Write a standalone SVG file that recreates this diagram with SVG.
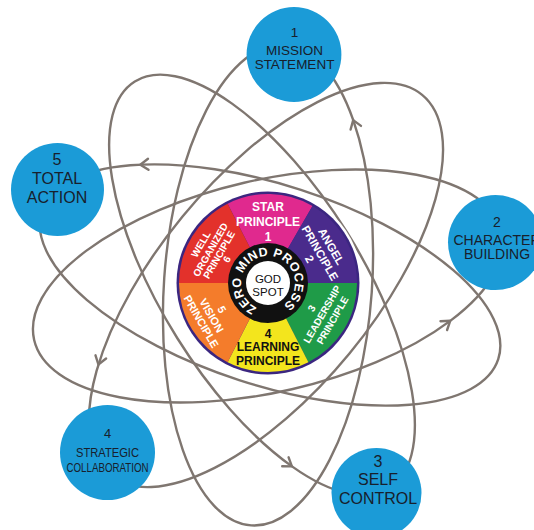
<svg xmlns="http://www.w3.org/2000/svg" width="534" height="530" viewBox="0 0 534 530">
<defs>
<style>
.orbit{fill:none;stroke:#7f7670;stroke-width:2.4}
.arrow{fill:none;stroke:#7f7670;stroke-width:2.4;stroke-linecap:round;stroke-linejoin:round}
.node circle{fill:#1b9bd7}
.node text{font-family:"Liberation Sans",Arial,sans-serif;fill:#18202c;text-anchor:middle}
.wt{font-family:"Liberation Sans",Arial,sans-serif;font-weight:bold;fill:#ffffff;text-anchor:middle}
.bt{font-family:"Liberation Sans",Arial,sans-serif;font-weight:bold;fill:#111111;text-anchor:middle}
.gs{font-family:"Liberation Sans",Arial,sans-serif;fill:#111111;text-anchor:middle;font-size:11.5px}
.zmp{font-family:"Liberation Sans",Arial,sans-serif;font-weight:bold;fill:#ffffff;text-anchor:start;font-size:12.5px}
</style>
<path id="zmp" d="M257.89,308.03 A27,27 0 0 1 251.38,261.72 A27,27 0 0 1 294.74,279.24 A27,27 0 0 1 257.89,308.03"/>
</defs>
<rect width="534" height="530" fill="#ffffff"/>

<g id="orbits">
<ellipse class="orbit" cx="268" cy="285" rx="241" ry="104" transform="rotate(94 268 285)"/>
<ellipse class="orbit" cx="266" cy="285" rx="246" ry="108" transform="rotate(129.4 266 285)"/>
<ellipse class="orbit" cx="268" cy="286" rx="240" ry="106" transform="rotate(-13 268 286)"/>
<ellipse class="orbit" cx="270" cy="285" rx="240" ry="100" transform="rotate(18 270 285)"/>
<ellipse class="orbit" cx="262" cy="285" rx="240" ry="100" transform="rotate(58 262 285)"/>
<path class="arrow" d="M361.0,125.9 L353.2,120.1 L350.6,129.5"/>
<path class="arrow" d="M447.1,330 L450.2,320.8 L440.5,321.2"/>
<path class="arrow" d="M282.2,466.3 L291.9,466.4 L288.6,457.3"/>
<path class="arrow" d="M95.5,355.3 L98.4,364.5 L106.1,358.5"/>
<path class="arrow" d="M148,158.8 L140.3,164.7 L148.5,169.8"/>
</g>

<g id="hub">
<circle cx="268" cy="283" r="94" fill="#ffffff"/>
<circle cx="268" cy="283" r="91.5" fill="#3b2680"/>
<path d="M268,283 L227.6,203.7 A89,89 0 0 1 312.5,205.9 Z" fill="#e0298e"/>
<path d="M268,283 L312.5,205.9 A89,89 0 0 1 357,283 Z" fill="#4a2b8c"/>
<path d="M268,283 L357,283 A89,89 0 0 1 308.4,362.3 Z" fill="#1f9b48"/>
<path d="M268,283 L308.4,362.3 A89,89 0 0 1 227.6,362.3 Z" fill="#f3e51d"/>
<path d="M268,283 L227.6,362.3 A89,89 0 0 1 179,283 Z" fill="#f47c2b"/>
<path d="M268,283 L179,283 A89,89 0 0 1 227.6,203.7 Z" fill="#e3312b"/>
<circle cx="268" cy="283" r="40" fill="#111111"/>
<circle cx="268" cy="283" r="22" fill="#ffffff"/>
<text class="zmp" letter-spacing="0.4"><textPath href="#zmp" startOffset="1">ZERO MIND PROCESS</textPath></text>
<text class="gs" x="268" y="282.5">GOD</text>
<text class="gs" x="268" y="296">SPOT</text>
<text class="wt" font-size="12" x="268" y="211">STAR</text>
<text class="wt" font-size="12" x="268" y="226">PRINCIPLE</text>
<text class="wt" font-size="12" x="268" y="241">1</text>
<text class="bt" font-size="12" x="268" y="337.5">4</text>
<text class="bt" font-size="12" x="268" y="351">LEARNING</text>
<text class="bt" font-size="12" x="268" y="364.5">PRINCIPLE</text>
<g transform="translate(268,283) rotate(60)">
<text class="wt" font-size="11.5" x="0" y="-69">ANGEL</text>
<text class="wt" font-size="11.5" x="0" y="-56">PRINCIPLE</text>
<text class="wt" font-size="11.5" x="0" y="-44">2</text>
</g>
<g transform="translate(268,283) rotate(-60)">
<text class="wt" font-size="10" x="0" y="54">3</text>
<text class="wt" font-size="10" x="0" y="66">LEADERSHIP</text>
<text class="wt" font-size="10" x="0" y="78">PRINCIPLE</text>
</g>
<g transform="translate(268,283) rotate(60)">
<text class="wt" font-size="11" x="0" y="57">5</text>
<text class="wt" font-size="11" x="0" y="69">VISION</text>
<text class="wt" font-size="11" x="0" y="81">PRINCIPLE</text>
</g>
<g transform="translate(268,283) rotate(-60)">
<text class="wt" font-size="10" x="0" y="-74">WELL</text>
<text class="wt" font-size="10" x="0" y="-63">ORGANIZED</text>
<text class="wt" font-size="10" x="0" y="-53">PRINCIPLE</text>
<text class="wt" font-size="10" x="0" y="-44">6</text>
</g>
</g>

<g id="node-1" class="node">
<circle cx="294" cy="54.5" r="47.4"/>
<text x="294.5" y="37" font-size="13.5">1</text>
<text x="294.5" y="54.5" font-size="13.5">MISSION</text>
<text x="294.5" y="69" font-size="13.5">STATEMENT</text>
</g>
<g id="node-2" class="node">
<circle cx="495.5" cy="242.5" r="47.5"/>
<text x="497" y="226.5" font-size="14">2</text>
<text x="497" y="244.5" font-size="14">CHARACTER</text>
<text x="497" y="259" font-size="14">BUILDING</text>
</g>
<g id="node-3" class="node">
<circle cx="376.5" cy="493" r="45"/>
<text x="378" y="466.5" font-size="16">3</text>
<text x="378" y="485" font-size="16">SELF</text>
<text x="378" y="503.5" font-size="16">CONTROL</text>
</g>
<g id="node-4" class="node">
<circle cx="107.5" cy="452.5" r="47.5"/>
<text x="107.5" y="437.5" font-size="13">4</text>
<text x="107.5" y="456.5" font-size="13.5" textLength="63" lengthAdjust="spacingAndGlyphs">STRATEGIC</text>
<text x="107.5" y="472" font-size="13.5" textLength="82" lengthAdjust="spacingAndGlyphs">COLLABORATION</text>
</g>
<g id="node-5" class="node">
<circle cx="57.5" cy="189.5" r="46.5"/>
<text x="57" y="165" font-size="16">5</text>
<text x="57" y="184" font-size="16">TOTAL</text>
<text x="57" y="202.5" font-size="16">ACTION</text>
</g>
</svg>
